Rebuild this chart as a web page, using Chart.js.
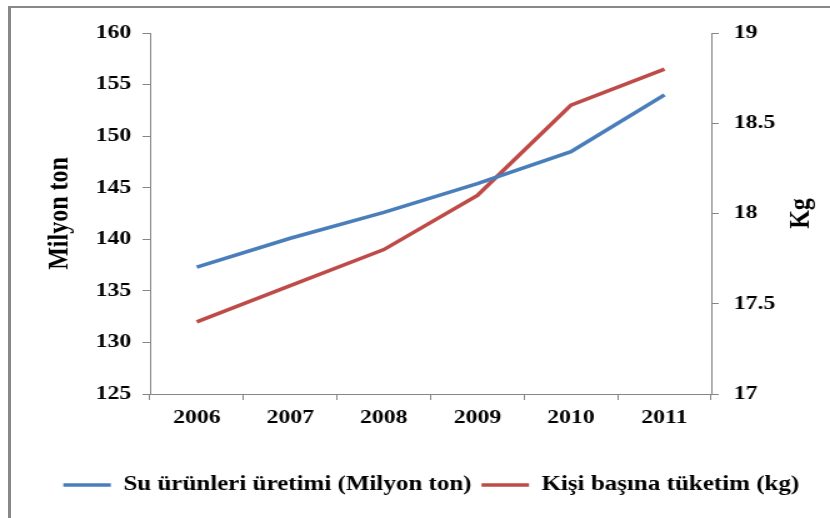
<!DOCTYPE html>
<html>
<head>
<meta charset="utf-8">
<script src="https://cdn.jsdelivr.net/npm/chart.js@4.4.1/dist/chart.umd.min.js"></script>
<style>
  html, body { margin: 0; padding: 0; background: #ffffff; overflow: hidden; }
  #wrap { position: relative; width: 830px; height: 518px; overflow: hidden; background: #fff; }
  #c { position: absolute; left: 0; top: 0; transform: scaleX(1.25); transform-origin: 0 0; }
  #frame { position: absolute; left: 8px; top: 6px; width: 900px; height: 600px;
           border-left: 3px solid #888888; border-top: 2px solid #888888; pointer-events: none; }
</style>
</head>
<body>
<div id="wrap">
  <canvas id="c" width="664" height="518"></canvas>
  <div id="frame"></div>
</div>
<script>
// ---- data ----
const years = ['2006', '2007', '2008', '2009', '2010', '2011'];
const production = [137.3, 140.1, 142.6, 145.4, 148.5, 154.0];   // Milyon ton (left axis)
const consumption = [17.4, 17.6, 17.8, 18.1, 18.6, 18.8];        // kg per person (right axis)
const seriesNames = ['Su ürünleri üretimi (Milyon ton)', 'Kişi başına tüketim (kg)'];
const leftTitle = 'Milyon ton';
const rightTitle = 'Kg';

const FONT = "'Liberation Serif', 'Times New Roman', serif";
const AXIS = '#868686';

const titlePlugin = {
  id: 'axisTitles',
  afterDraw(chart) {
    const ctx = chart.ctx;
    const ca = chart.chartArea;
    const midY = (ca.top + ca.bottom) / 2;
    ctx.save();
    ctx.fillStyle = '#000';
    ctx.font = 'bold 24px ' + FONT;
    ctx.textAlign = 'center';
    ctx.textBaseline = 'middle';
    ctx.save();
    ctx.translate(ca.left - 72, midY);
    ctx.rotate(-Math.PI / 2);
    ctx.fillText(leftTitle, 0, 0);
    ctx.restore();
    ctx.save();
    ctx.translate(ca.right + 72, midY);
    ctx.rotate(-Math.PI / 2);
    ctx.fillText(rightTitle, 0, 0);
    ctx.restore();
    ctx.restore();
  }
};

new Chart(document.getElementById('c'), {
  type: 'line',
  data: {
    labels: years,
    datasets: [
      { label: seriesNames[0], data: production, yAxisID: 'y',
        borderColor: '#4A7EBB', backgroundColor: '#4A7EBB', borderWidth: 3.5,
        pointRadius: 0, tension: 0 },
      { label: seriesNames[1], data: consumption, yAxisID: 'y1',
        borderColor: '#BE4B48', backgroundColor: '#BE4B48', borderWidth: 3.5,
        pointRadius: 0, tension: 0 }
    ]
  },
  options: {
    responsive: false,
    animation: false,
    devicePixelRatio: 1,
    layout: { padding: { left: 26, right: 0, top: 33, bottom: 13 } },
    plugins: {
      tooltip: { enabled: false },
      legend: {
        position: 'bottom',
        labels: {
          font: { family: FONT, size: 20, weight: 'bold' },
          color: '#000',
          usePointStyle: true,
          pointStyle: 'line',
          pointStyleWidth: 38,
          boxHeight: 20,
          padding: 8
        }
      }
    },
    scales: {
      x: {
        offset: true,
        grid: { offset: true, drawOnChartArea: false, drawTicks: true, tickLength: 6, color: AXIS },
        border: { display: true, color: AXIS, width: 1 },
        ticks: { font: { family: FONT, size: 19, weight: 'bold' }, color: '#000', padding: 7, maxRotation: 0 },
        afterFit(s) { s.height = 73; }
      },
      y: {
        position: 'left',
        min: 125, max: 160,
        ticks: { stepSize: 5, font: { family: FONT, size: 19, weight: 'bold' }, color: '#000', padding: 9 },
        grid: { drawOnChartArea: false, drawTicks: true, tickLength: 6, color: AXIS },
        border: { display: true, color: AXIS, width: 1 },
        afterFit(s) { s.width = 94; }
      },
      y1: {
        position: 'right',
        min: 17, max: 19,
        ticks: { stepSize: 0.5, font: { family: FONT, size: 19, weight: 'bold' }, color: '#000', padding: 12,
                 callback: (v) => String(v) },
        grid: { drawOnChartArea: false, drawTicks: true, tickLength: 6, color: AXIS },
        border: { display: true, color: AXIS, width: 1 },
        afterFit(s) { s.width = 95; }
      }
    }
  },
  plugins: [titlePlugin]
});
</script>
</body>
</html>
